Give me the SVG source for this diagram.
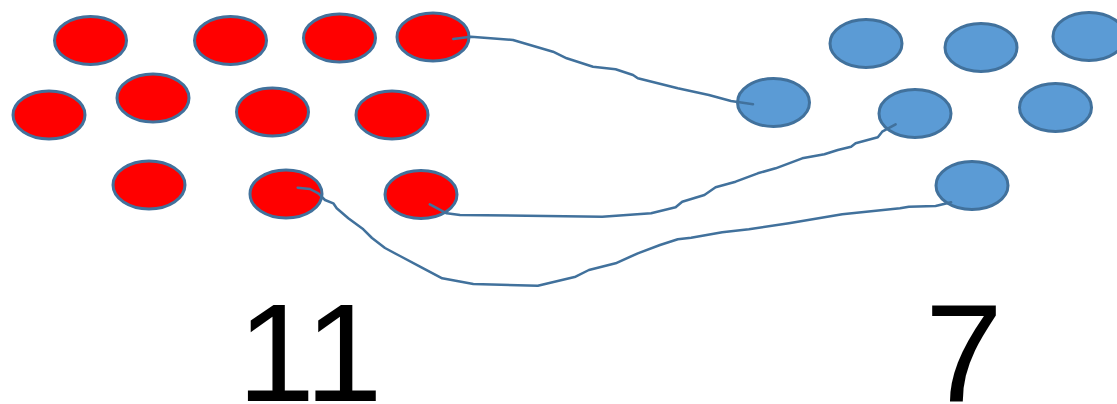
<svg xmlns="http://www.w3.org/2000/svg" width="1117" height="404" viewBox="0 0 1117 404">
<style>
.r{fill:#FF0000;stroke:#41719C;stroke-width:3}
.b{fill:#5B9BD5;stroke:#41719C;stroke-width:3}
.c{fill:none;stroke:#41719C;stroke-width:2.5;stroke-linejoin:round;stroke-linecap:round}
.n{font-family:"Liberation Sans",Arial,sans-serif;font-size:140px;fill:#000;text-anchor:middle}
</style>
<rect width="1117" height="404" fill="#fff"/>
<g id="red">
<g id="r1"><ellipse class="r" cx="90.5" cy="40.5" rx="36" ry="24"/></g>
<g id="r2"><ellipse class="r" cx="230.5" cy="40.5" rx="36" ry="24"/></g>
<g id="r3"><ellipse class="r" cx="339.5" cy="38" rx="36" ry="24"/></g>
<g id="r4"><ellipse class="r" cx="433" cy="37" rx="36" ry="24"/></g>
<g id="r5"><ellipse class="r" cx="49" cy="115" rx="36" ry="24"/></g>
<g id="r6"><ellipse class="r" cx="153" cy="98" rx="36" ry="24"/></g>
<g id="r7"><ellipse class="r" cx="272.5" cy="112" rx="36" ry="24"/></g>
<g id="r8"><ellipse class="r" cx="392" cy="115" rx="36" ry="24"/></g>
<g id="r9"><ellipse class="r" cx="149" cy="185" rx="36" ry="24"/></g>
<g id="r10"><ellipse class="r" cx="286" cy="194" rx="36" ry="24"/></g>
<g id="r11"><ellipse class="r" cx="421" cy="194.5" rx="36" ry="24"/></g>
</g>
<g id="blue">
<g id="b1"><ellipse class="b" cx="773.5" cy="102.5" rx="36" ry="24"/></g>
<g id="b2"><ellipse class="b" cx="866" cy="43.5" rx="36" ry="24"/></g>
<g id="b3"><ellipse class="b" cx="981" cy="47.5" rx="36" ry="24"/></g>
<g id="b4"><ellipse class="b" cx="1089" cy="36.5" rx="36" ry="24"/></g>
<g id="b5"><ellipse class="b" cx="915" cy="113.5" rx="36" ry="24"/></g>
<g id="b6"><ellipse class="b" cx="1055.5" cy="107.5" rx="36" ry="24"/></g>
<g id="b7"><ellipse class="b" cx="972" cy="185.5" rx="36" ry="24"/></g>
</g>
<g id="connectors">
<polyline class="c" points="453.3,39 471,36.7 513,40 553,51.7 566.7,58.3 593,66.7 615.6,69.3 633,75 637.8,78.3 677.8,88.3 708.9,95 731,101 753,104.3"/>
<polyline class="c" points="429.8,204.3 446.7,213.3 460,215 602.2,216.7 651.1,213.3 675.6,207.3 682.2,201.7 704.4,195 715.6,187.3 735.6,181.7 757.8,173.3 775.6,168.3 802.2,158.3 824.4,154.3 837.8,150 851.1,146.7 855.6,143.3 877.8,137.3 882.2,131.7 895.6,124.3"/>
<polyline class="c" points="297.7,187.7 310,189 318.3,193.3 325,200 333.3,203.3 336.7,208.3 348.3,218.3 363.3,229.3 372,238 385,248 400,256 420,266.7 442.2,278.3 473.3,284 537.8,285.7 575.6,276.7 588.9,270 615.6,263.3 637.8,253.3 660,245 677.8,239.3 691.1,237.7 722.2,232.3 748.9,229.3 788.9,223.3 842.2,214.3 900,208.3 908.9,206.7 935.6,206 951.1,202.3"/>
</g>
<g id="labels">
<text class="n" x="310" y="401">11</text>
<text class="n" x="964" y="401">7</text>
</g>
</svg>
